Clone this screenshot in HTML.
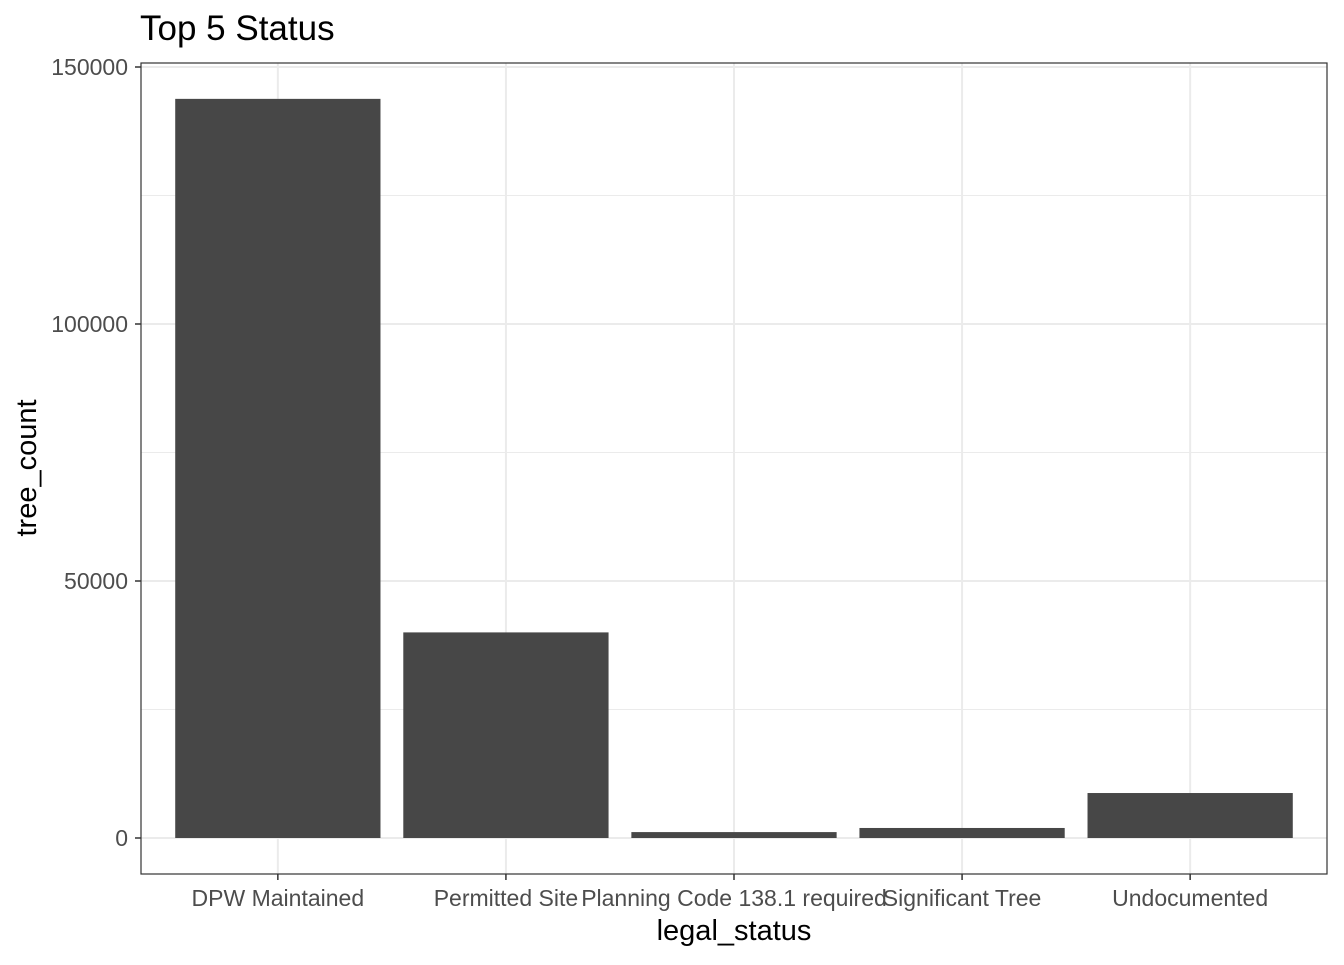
<!DOCTYPE html>
<html><head><meta charset="utf-8"><style>
body{margin:0;background:#fff;font-family:"Liberation Sans",Arial,sans-serif}
</style></head><body>
<svg width="1344" height="960" xmlns="http://www.w3.org/2000/svg">
<g id="root"></g>
</svg>
<script>
const categories=["DPW Maintained","Permitted Site","Planning Code 138.1 required","Significant Tree","Undocumented"];
const values=[143800,40000,1150,1950,8750];
const yTicks=[0,50000,100000,150000];
const yMinor=[25000,75000,125000];
const NS="http://www.w3.org/2000/svg";
const root=document.getElementById('root');
const L=141,R=1327,T=63,B=874;
const y=v=>838-(v/150000)*771;
const band=(R-L)/5.2;
const x=i=>L+(i+1-0.4)*band;
function mk(t,a,txt){const e=document.createElementNS(NS,t);for(const k in a)e.setAttribute(k,a[k]);if(txt!=null)e.textContent=txt;root.appendChild(e);return e;}
yMinor.forEach(v=>{const e=mk('line',{x1:L,x2:R,y1:y(v),y2:y(v),stroke:'#ebebeb','stroke-width':1});

});
yTicks.forEach(v=>{const e=mk('line',{x1:L,x2:R,y1:y(v),y2:y(v),stroke:'#ebebeb','stroke-width':2});

});
categories.forEach((c,i)=>{const e=mk('line',{x1:x(i),x2:x(i),y1:T,y2:B,stroke:'#ebebeb','stroke-width':2});

});
categories.forEach((c,i)=>{const w=band*0.9;const r=mk('rect',{x:x(i)-w/2,y:y(values[i]),width:w,height:y(0)-y(values[i]),fill:'#474747'});


const tk=mk('line',{x1:x(i),x2:x(i),y1:B,y2:B+6,stroke:'#333','stroke-width':1.5});


const t=mk('text',{x:x(i),y:906,'text-anchor':'middle','font-size':23,fill:'#4d4d4d'},c);

});
yTicks.forEach(v=>{const tk=mk('line',{x1:L-6,x2:L,y1:y(v),y2:y(v),stroke:'#333','stroke-width':1.5});


const t=mk('text',{x:L-13,y:y(v)+8,'text-anchor':'end','font-size':23,fill:'#4d4d4d'},String(v));

});
const bd=mk('rect',{x:L,y:T,width:R-L,height:B-T,fill:'none',stroke:'#333','stroke-width':1.2});


const ti=mk('text',{x:140,y:40,'font-size':35,fill:'#000'},'Top 5 Status');


const xt=mk('text',{x:(L+R)/2,y:940,'text-anchor':'middle','font-size':29,fill:'#000'},'legal_status');


const yt=mk('text',{x:0,y:0,'text-anchor':'middle','font-size':29,fill:'#000',transform:'translate(36,468) rotate(-90)'},'tree_count');


</script>
</body></html>
